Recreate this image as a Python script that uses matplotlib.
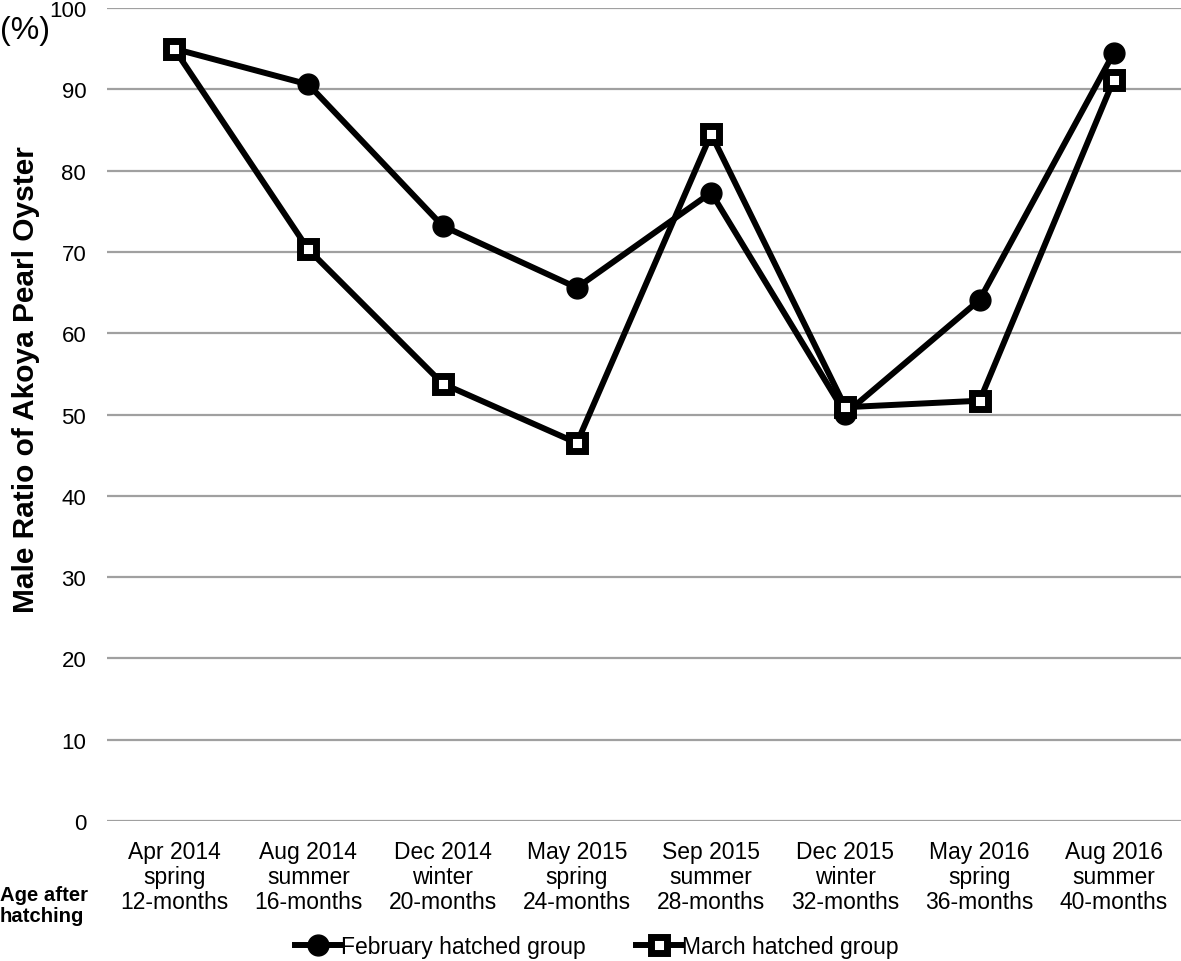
import matplotlib.pyplot as plt
import numpy as np

plt.rcParams['font.family'] = ['Liberation Sans', 'DejaVu Sans']

categories = ['Apr 2014\nspring\n12-months', 'Aug 2014\nsummer\n16-months',
              'Dec 2014\nwinter\n20-months', 'May 2015\nspring\n24-months',
              'Sep 2015\nsummer\n28-months', 'Dec 2015\nwinter\n32-months',
              'May 2016\nspring\n36-months', 'Aug 2016\nsummer\n40-months']
feb_group = [95.0, 90.6, 73.2, 65.6, 77.3, 50.1, 64.1, 94.5]
mar_group = [95.0, 70.3, 53.8, 46.5, 84.5, 50.9, 51.7, 91.2]

fig = plt.figure(figsize=(11.81, 9.62), dpi=100)
ax = fig.add_axes([0.0906, 0.1455, 0.9094, 0.8451])

x = np.arange(len(categories))
ax.plot(x, feb_group, color='black', lw=4.3, marker='o', markersize=15,
        label='February hatched group', zorder=3)
ax.plot(x, mar_group, color='black', lw=4.3, marker='s', markersize=11.5,
        markerfacecolor='white', markeredgecolor='black', markeredgewidth=5,
        label='March hatched group', zorder=4)

ax.set_xlim(-0.5, 7.5)
ax.set_ylim(0, 100)
ax.set_yticks(np.arange(0, 101, 10))
ax.set_xticks(x)
ax.set_xticklabels(categories, fontsize=16.5, linespacing=1.1)
ax.tick_params(axis='y', labelsize=16, length=0, pad=15)
ax.tick_params(axis='x', length=0, pad=14)
ax.grid(axis='y', color='#a0a0a0', lw=1.6)
ax.set_axisbelow(True)
for s in ax.spines.values():
    s.set_visible(False)

ax.set_ylabel('Male Ratio of Akoya Pearl Oyster', fontsize=21.5,
              fontweight='bold')
ax.yaxis.set_label_coords(-0.062, 0.544)
fig.text(0.0, 0.968, '(%)', fontsize=23, ha='left', va='center')
fig.text(0.0, 0.058, 'Age after\nhatching', fontsize=14.6, fontweight='bold',
         ha='left', va='center', linespacing=1.1)

ax.legend(loc='center', bbox_to_anchor=(0.505, 0.0146), bbox_transform=fig.transFigure,
          ncol=2, frameon=False, fontsize=16.5, handlelength=2.0,
          handletextpad=0.0, columnspacing=2.2, borderpad=0)

fig.savefig('out.png', dpi=100)
